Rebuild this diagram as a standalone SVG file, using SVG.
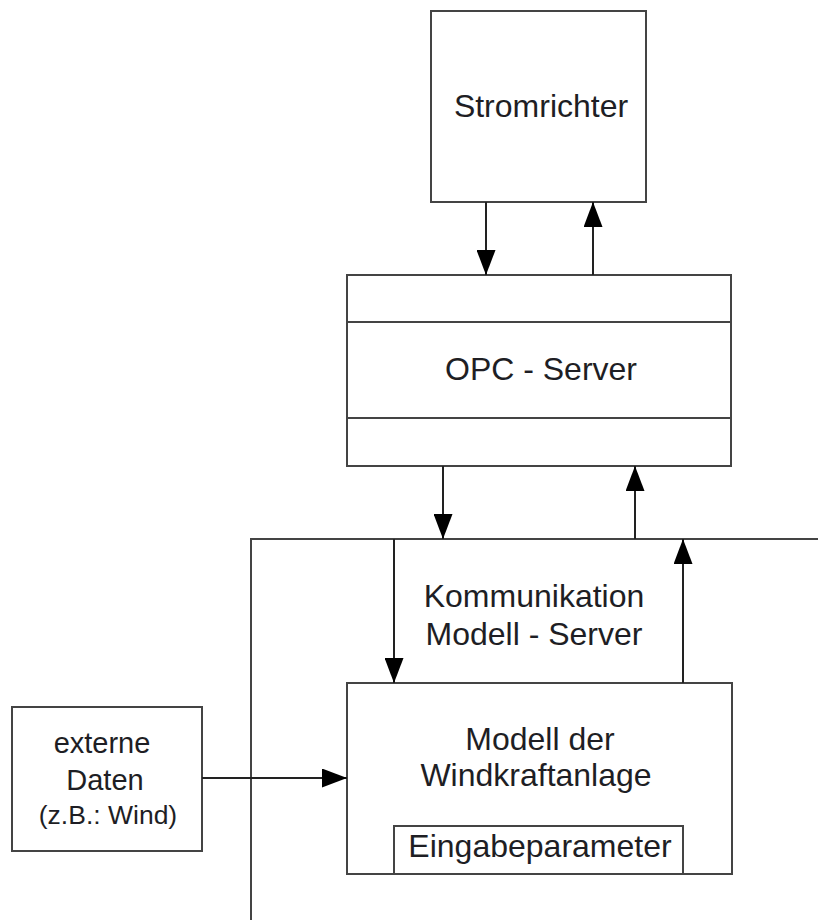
<svg xmlns="http://www.w3.org/2000/svg" width="818" height="920" viewBox="0 0 818 920">
<style>
.box{fill:#fff;stroke:#444;stroke-width:2}
.ln{fill:none;stroke:#444;stroke-width:2}
.con{fill:none;stroke:#222;stroke-width:2}
.t{font-family:"Liberation Sans",Arial,sans-serif;font-size:32px;fill:#1e1e24;text-anchor:middle}
.s{font-size:29px}
.xs{font-size:26.5px}
</style>
<defs>
<marker id="ah" markerUnits="userSpaceOnUse" markerWidth="25" markerHeight="19" viewBox="0 0 25 19" refX="25" refY="9.5" orient="auto">
<path d="M0,0 L25,9.5 L0,19 Z" fill="#000"/>
</marker>
</defs>
<rect width="818" height="920" fill="#fff"/>
<g id="frame">
<path class="ln" d="M251,920 V539 H818"/>
<text class="t" x="534" y="607">Kommunikation</text>
<text class="t" x="534" y="645">Modell - Server</text>
</g>
<g id="stromrichter">
<rect class="box" x="431" y="11" width="215" height="191"/>
<text class="t" x="541" y="117">Stromrichter</text>
</g>
<g id="opc">
<rect class="box" x="347" y="275" width="384" height="191"/>
<line class="ln" x1="347" y1="322" x2="731" y2="322"/>
<line class="ln" x1="347" y1="418" x2="731" y2="418"/>
<text class="t" x="541" y="380">OPC - Server</text>
</g>
<g id="modell">
<rect class="box" x="347" y="683" width="385" height="191"/>
<text class="t" x="540" y="750">Modell der</text>
<text class="t" x="536" y="786">Windkraftanlage</text>
</g>
<g id="eingabe">
<rect class="box" x="394" y="826" width="289" height="48"/>
<text class="t" x="540" y="857">Eingabeparameter</text>
</g>
<g id="extern">
<rect class="box" x="12" y="707" width="190" height="144"/>
<text class="t s" x="102" y="753">externe</text>
<text class="t s" x="105" y="790">Daten</text>
<text class="t xs" x="108" y="824">(z.B.: Wind)</text>
</g>
<g id="connectors">
<line class="con" x1="486" y1="202" x2="486" y2="275" marker-end="url(#ah)"/>
<line class="con" x1="593" y1="275" x2="593" y2="202" marker-end="url(#ah)"/>
<line class="con" x1="443" y1="466" x2="443" y2="539" marker-end="url(#ah)"/>
<line class="con" x1="635" y1="539" x2="635" y2="466" marker-end="url(#ah)"/>
<line class="con" x1="394" y1="539" x2="394" y2="683" marker-end="url(#ah)"/>
<line class="con" x1="683" y1="683" x2="683" y2="539" marker-end="url(#ah)"/>
<line class="con" x1="202" y1="778" x2="347" y2="778" marker-end="url(#ah)"/>
</g>
</svg>
